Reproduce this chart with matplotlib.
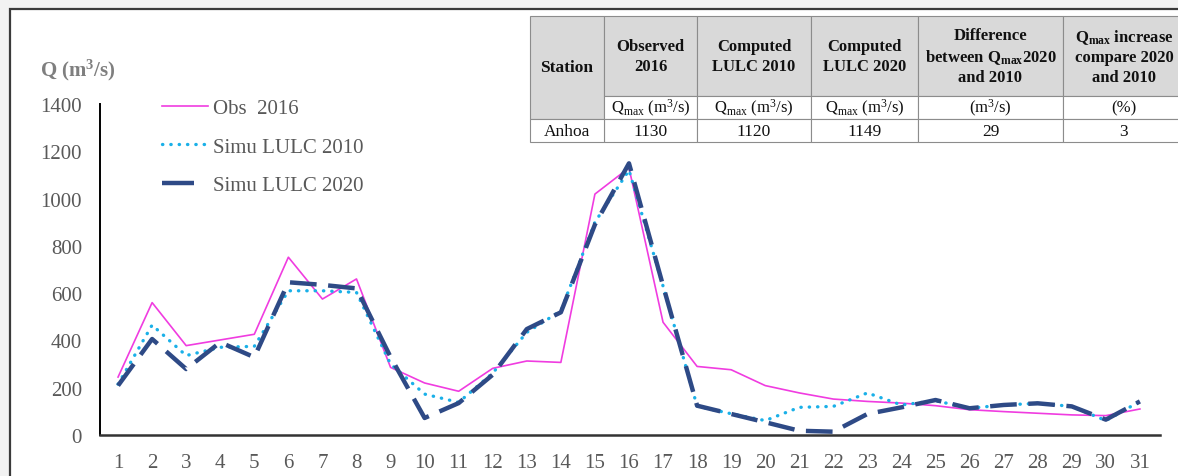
import numpy as np
import matplotlib
matplotlib.use('Agg')
import matplotlib.pyplot as plt
from matplotlib.patches import Rectangle
from matplotlib.lines import Line2D

plt.rcParams['font.family'] = ['Liberation Serif', 'DejaVu Serif']
plt.rcParams['mathtext.default'] = 'regular'

days = list(range(1, 32))
obs_2016 = [245, 560, 378, 402, 426, 752, 575, 660, 286, 220, 185, 282, 313, 307, 1019,
            1130, 477, 290, 276, 209, 178, 152, 142, 135, 124, 107, 99, 92, 85, 82, 110]
simu_2010 = [215, 465, 336, 371, 375, 610, 610, 603, 300, 173, 138, 262, 434, 525, 900,
             1120, 630, 122, 90, 61, 117, 121, 178, 127, 145, 113, 127, 134, 121, 61, 142]
simu_2020 = [209, 406, 279, 392, 329, 646, 635, 620, 330, 72, 135, 255, 448, 519, 890,
             1149, 632, 124, 89, 54, 18, 14, 89, 117, 148, 113, 127, 134, 121, 65, 142]
yticks = [0, 200, 400, 600, 800, 1000, 1200, 1400]

tbl_station = 'Anhoa'
tbl_head = ['Observed\n2016', 'Computed\nLULC 2010', 'Computed\nLULC 2020',
            'Difference\nbetween Q$_{max}$2020\nand 2010',
            'Q$_{max}$ increase\ncompare 2020\nand 2010']
tbl_units = ['Q$_{max}$ (m$^3$/s)', 'Q$_{max}$ (m$^3$/s)', 'Q$_{max}$ (m$^3$/s)',
             '(m$^3$/s)', '(%)']
tbl_values = ['1130', '1120', '1149', '29', '3']

W, H = 1178, 477
fig = plt.figure(figsize=(W / 100, H / 100), dpi=100, facecolor='#f2f2f2')

def fx(x):
    return x / W

def fy(y):
    return 1 - y / H

# white panel with dark border
fig.patches.append(Rectangle((fx(10), fy(490)), fx(1200) - fx(10), fy(10) - fy(490),
                             transform=fig.transFigure, facecolor='white',
                             edgecolor='#3a3a3a', lw=1.6, zorder=-5))

ax = fig.add_axes([fx(100), fy(436), fx(1160) - fx(100), fy(105) - fy(436)])
ax.set_zorder(0.5)
ax.set_facecolor('none')
c_obs, c_2010, c_2020 = '#f03ce0', '#1ab0e8', '#2e4a86'
ax.plot(days, obs_2016, color=c_obs, lw=1.2, zorder=3)
ax.plot(days, simu_2010, color=c_2010, lw=2.4, linestyle=(0, (0.1, 2.4)),
        dash_capstyle='round', zorder=4)
ax.plot(days, simu_2020, color=c_2020, lw=3.2, linestyle=(0, (6, 2.6)), zorder=5)

ax.set_xlim(0.47, 31.59)
ax.set_ylim(0, 1400)
ax.set_xticks(days)
ax.set_yticks(yticks)
ax.tick_params(length=0, labelsize=15, labelcolor='#595959')
ax.tick_params(axis='x', pad=13)
ax.tick_params(axis='y', pad=13)
for s in ['top', 'right']:
    ax.spines[s].set_visible(False)
ax.spines['left'].set_color('black')
ax.spines['left'].set_linewidth(1.4)
ax.spines['bottom'].set_color('#333333')
ax.spines['bottom'].set_linewidth(1.8)

handles = [
    Line2D([], [], color=c_obs, lw=1.2),
    Line2D([], [], color=c_2010, lw=2.4, linestyle=(0, (0.1, 2.4)), dash_capstyle='round'),
    Line2D([], [], color=c_2020, lw=3.2, linestyle=(0, (7.2, 20))),
]
leg = ax.legend(handles, ['Obs  2016', 'Simu LULC 2010', 'Simu LULC 2020'],
                loc='upper left', bbox_to_anchor=(fx(143), fy(81)),
                bbox_transform=fig.transFigure, frameon=False, fontsize=15,
                handlelength=2.2, handletextpad=0.25, labelspacing=0.9)
for t in leg.get_texts():
    t.set_color('#595959')

fig.text(fx(40), fy(70), 'Q (m$^3$/s)', fontsize=15, fontweight='bold',
         color='#7f7f7f', va='center', ha='left')

# table
cols = [530, 604, 697, 811, 918, 1063, 1185]
rows = [17, 97, 120, 143]

def cell(x0, x1, y0, y1, color):
    fig.patches.append(Rectangle((fx(x0), fy(y1)), fx(x1) - fx(x0), fy(y0) - fy(y1),
                                 transform=fig.transFigure, facecolor=color,
                                 edgecolor='#8c8c8c', lw=0.8, zorder=1))

def ctext(x0, x1, y0, y1, s, **kw):
    fig.text(fx((x0 + x1) / 2), fy((y0 + y1) / 2), s, ha='center', va='center',
             color='#111111', linespacing=1.3, zorder=2, **kw)

cell(cols[0], cols[1], rows[0], rows[2], '#d9d9d9')
ctext(cols[0], cols[1], rows[0], rows[2], 'Station', fontsize=12.5, fontweight='bold')
for i in range(5):
    x0, x1 = cols[i + 1], cols[i + 2]
    cell(x0, x1, rows[0], rows[1], '#d9d9d9')
    ctext(x0, x1, rows[0], rows[1], tbl_head[i], fontsize=12, fontweight='bold')
    cell(x0, x1, rows[1], rows[2], 'white')
    ctext(x0, x1, rows[1], rows[2], tbl_units[i], fontsize=12)
    cell(x0, x1, rows[2], rows[3], 'white')
    ctext(x0, x1, rows[2], rows[3], tbl_values[i], fontsize=12.5)
cell(cols[0], cols[1], rows[2], rows[3], 'white')
ctext(cols[0], cols[1], rows[2], rows[3], tbl_station, fontsize=12.5)

fig.savefig('out.png', dpi=100, facecolor=fig.get_facecolor())
